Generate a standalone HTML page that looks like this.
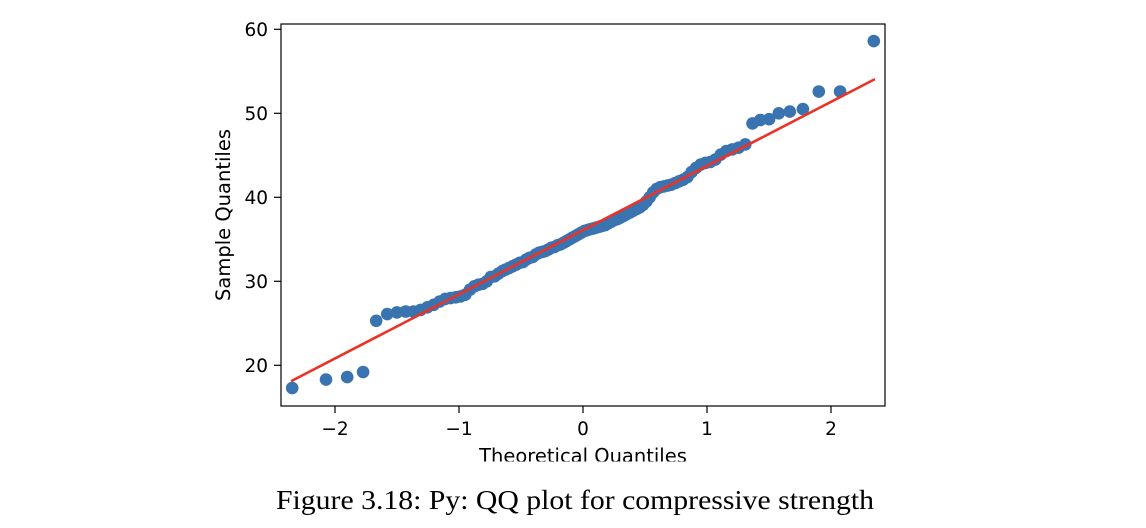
<!DOCTYPE html>
<html>
<head>
<meta charset="utf-8">
<style>
  html,body{margin:0;padding:0;background:#ffffff;}
  body{width:1146px;height:528px;overflow:hidden;}
  svg{display:block;}
  .tick{font-family:"DejaVu Sans","Liberation Sans",sans-serif;font-size:18.5px;fill:#000;}
  .lab{font-family:"DejaVu Sans","Liberation Sans",sans-serif;font-size:19.5px;fill:#000;}
  .cap{font-family:"Liberation Serif","DejaVu Serif",serif;font-size:27px;fill:#000;}
</style>
</head>
<body>
<svg width="1146" height="528" viewBox="0 0 1146 528" xmlns="http://www.w3.org/2000/svg">
  <defs>
    <clipPath id="axclip"><rect x="281" y="24" width="604" height="382"/></clipPath>
    <clipPath id="xlabclip"><rect x="0" y="440" width="1146" height="21.5"/></clipPath>
  </defs>
  <rect x="0" y="0" width="1146" height="528" fill="#ffffff"/>

  <g clip-path="url(#axclip)" fill="#3a74b0">
    <circle cx="292.2" cy="388.0" r="6.3"/>
    <circle cx="326.0" cy="379.6" r="6.3"/>
    <circle cx="347.2" cy="377.1" r="6.3"/>
    <circle cx="363.1" cy="372.0" r="6.3"/>
    <circle cx="376.2" cy="320.8" r="6.3"/>
    <circle cx="387.2" cy="314.1" r="6.3"/>
    <circle cx="396.9" cy="312.4" r="6.3"/>
    <circle cx="405.7" cy="311.5" r="6.3"/>
    <circle cx="413.5" cy="311.5" r="6.3"/>
    <circle cx="420.7" cy="309.9" r="6.3"/>
    <circle cx="427.4" cy="307.3" r="6.3"/>
    <circle cx="433.7" cy="304.8" r="6.3"/>
    <circle cx="439.7" cy="301.5" r="6.3"/>
    <circle cx="445.2" cy="298.9" r="6.3"/>
    <circle cx="450.6" cy="298.1" r="6.3"/>
    <circle cx="455.8" cy="297.3" r="6.3"/>
    <circle cx="460.6" cy="296.4" r="6.3"/>
    <circle cx="465.3" cy="294.7" r="6.3"/>
    <circle cx="470.0" cy="289.7" r="6.3"/>
    <circle cx="474.4" cy="286.3" r="6.3"/>
    <circle cx="478.6" cy="284.7" r="6.3"/>
    <circle cx="482.8" cy="283.8" r="6.3"/>
    <circle cx="486.8" cy="281.3" r="6.3"/>
    <circle cx="490.7" cy="277.1" r="6.3"/>
    <circle cx="494.7" cy="276.3" r="6.3"/>
    <circle cx="498.4" cy="273.7" r="6.3"/>
    <circle cx="502.2" cy="271.2" r="6.3"/>
    <circle cx="505.7" cy="269.5" r="6.3"/>
    <circle cx="509.3" cy="267.9" r="6.3"/>
    <circle cx="512.8" cy="266.2" r="6.3"/>
    <circle cx="516.3" cy="264.5" r="6.3"/>
    <circle cx="519.6" cy="262.8" r="6.3"/>
    <circle cx="523.0" cy="262.0" r="6.3"/>
    <circle cx="526.3" cy="259.5" r="6.3"/>
    <circle cx="529.6" cy="257.8" r="6.3"/>
    <circle cx="532.8" cy="256.9" r="6.3"/>
    <circle cx="535.9" cy="254.4" r="6.3"/>
    <circle cx="539.1" cy="252.7" r="6.3"/>
    <circle cx="542.2" cy="251.9" r="6.3"/>
    <circle cx="545.4" cy="251.1" r="6.3"/>
    <circle cx="548.5" cy="249.4" r="6.3"/>
    <circle cx="551.6" cy="247.7" r="6.3"/>
    <circle cx="554.6" cy="246.9" r="6.3"/>
    <circle cx="557.7" cy="245.2" r="6.3"/>
    <circle cx="560.7" cy="244.3" r="6.3"/>
    <circle cx="563.7" cy="242.7" r="6.3"/>
    <circle cx="566.6" cy="241.0" r="6.3"/>
    <circle cx="569.6" cy="239.3" r="6.3"/>
    <circle cx="572.6" cy="237.6" r="6.3"/>
    <circle cx="575.6" cy="235.9" r="6.3"/>
    <circle cx="578.5" cy="234.3" r="6.3"/>
    <circle cx="581.5" cy="232.6" r="6.3"/>
    <circle cx="584.5" cy="230.9" r="6.3"/>
    <circle cx="587.5" cy="230.1" r="6.3"/>
    <circle cx="590.4" cy="229.2" r="6.3"/>
    <circle cx="593.4" cy="228.4" r="6.3"/>
    <circle cx="596.4" cy="227.5" r="6.3"/>
    <circle cx="599.4" cy="226.7" r="6.3"/>
    <circle cx="602.3" cy="225.9" r="6.3"/>
    <circle cx="605.3" cy="225.0" r="6.3"/>
    <circle cx="608.3" cy="223.3" r="6.3"/>
    <circle cx="611.4" cy="221.7" r="6.3"/>
    <circle cx="614.4" cy="220.0" r="6.3"/>
    <circle cx="617.5" cy="219.1" r="6.3"/>
    <circle cx="620.6" cy="217.5" r="6.3"/>
    <circle cx="623.8" cy="215.8" r="6.3"/>
    <circle cx="626.9" cy="214.1" r="6.3"/>
    <circle cx="630.1" cy="212.4" r="6.3"/>
    <circle cx="633.2" cy="210.7" r="6.3"/>
    <circle cx="636.4" cy="209.1" r="6.3"/>
    <circle cx="639.7" cy="207.4" r="6.3"/>
    <circle cx="643.0" cy="204.9" r="6.3"/>
    <circle cx="646.4" cy="201.5" r="6.3"/>
    <circle cx="649.7" cy="197.3" r="6.3"/>
    <circle cx="653.2" cy="192.3" r="6.3"/>
    <circle cx="656.7" cy="188.9" r="6.3"/>
    <circle cx="660.3" cy="187.2" r="6.3"/>
    <circle cx="663.8" cy="186.4" r="6.3"/>
    <circle cx="667.6" cy="185.5" r="6.3"/>
    <circle cx="671.3" cy="184.7" r="6.3"/>
    <circle cx="675.3" cy="183.0" r="6.3"/>
    <circle cx="679.2" cy="181.3" r="6.3"/>
    <circle cx="683.2" cy="179.7" r="6.3"/>
    <circle cx="687.4" cy="177.1" r="6.3"/>
    <circle cx="691.6" cy="172.1" r="6.3"/>
    <circle cx="696.0" cy="167.9" r="6.3"/>
    <circle cx="700.7" cy="164.5" r="6.3"/>
    <circle cx="705.4" cy="162.9" r="6.3"/>
    <circle cx="710.2" cy="162.0" r="6.3"/>
    <circle cx="715.4" cy="159.5" r="6.3"/>
    <circle cx="720.8" cy="154.5" r="6.3"/>
    <circle cx="726.3" cy="151.1" r="6.3"/>
    <circle cx="732.3" cy="149.4" r="6.3"/>
    <circle cx="738.6" cy="147.7" r="6.3"/>
    <circle cx="745.3" cy="144.4" r="6.3"/>
    <circle cx="752.5" cy="123.4" r="6.3"/>
    <circle cx="760.3" cy="120.0" r="6.3"/>
    <circle cx="769.1" cy="119.2" r="6.3"/>
    <circle cx="778.8" cy="113.3" r="6.3"/>
    <circle cx="789.8" cy="111.6" r="6.3"/>
    <circle cx="802.9" cy="109.1" r="6.3"/>
    <circle cx="818.8" cy="91.5" r="6.3"/>
    <circle cx="840.1" cy="91.5" r="6.3"/>
    <circle cx="873.8" cy="41.1" r="6.3"/>
  </g>

  <line x1="292.2" y1="380.6" x2="873.8" y2="79.7" stroke="#eb3228" stroke-width="2.6" stroke-linecap="square" clip-path="url(#axclip)"/>

  <rect x="281" y="24" width="604" height="382" fill="none" stroke="#000" stroke-width="1.2"/>

  <g stroke="#000" stroke-width="1.2">
    <line x1="335" y1="406" x2="335" y2="413"/>
    <line x1="459" y1="406" x2="459" y2="413"/>
    <line x1="583" y1="406" x2="583" y2="413"/>
    <line x1="707" y1="406" x2="707" y2="413"/>
    <line x1="831" y1="406" x2="831" y2="413"/>
  </g>
  <g class="tick" text-anchor="middle">
    <text x="335" y="435">−2</text>
    <text x="459" y="435">−1</text>
    <text x="583" y="435">0</text>
    <text x="707" y="435">1</text>
    <text x="831" y="435">2</text>
  </g>

  <g stroke="#000" stroke-width="1.2">
    <line x1="274" y1="29.3" x2="281" y2="29.3"/>
    <line x1="274" y1="113.3" x2="281" y2="113.3"/>
    <line x1="274" y1="197.3" x2="281" y2="197.3"/>
    <line x1="274" y1="281.3" x2="281" y2="281.3"/>
    <line x1="274" y1="365.3" x2="281" y2="365.3"/>
  </g>
  <g class="tick" text-anchor="end">
    <text x="268" y="36">60</text>
    <text x="268" y="120">50</text>
    <text x="268" y="204">40</text>
    <text x="268" y="288">30</text>
    <text x="268" y="372">20</text>
  </g>

  <text class="lab" text-anchor="middle" transform="translate(230,215) rotate(-90)">Sample Quantiles</text>
  <g clip-path="url(#xlabclip)">
    <text class="lab" x="583" y="462.5" text-anchor="middle">Theoretical Quantiles</text>
  </g>

  <text class="cap" x="276" y="509" textLength="598" lengthAdjust="spacingAndGlyphs">Figure 3.18: Py: QQ plot for compressive strength</text>
</svg>
</body>
</html>
